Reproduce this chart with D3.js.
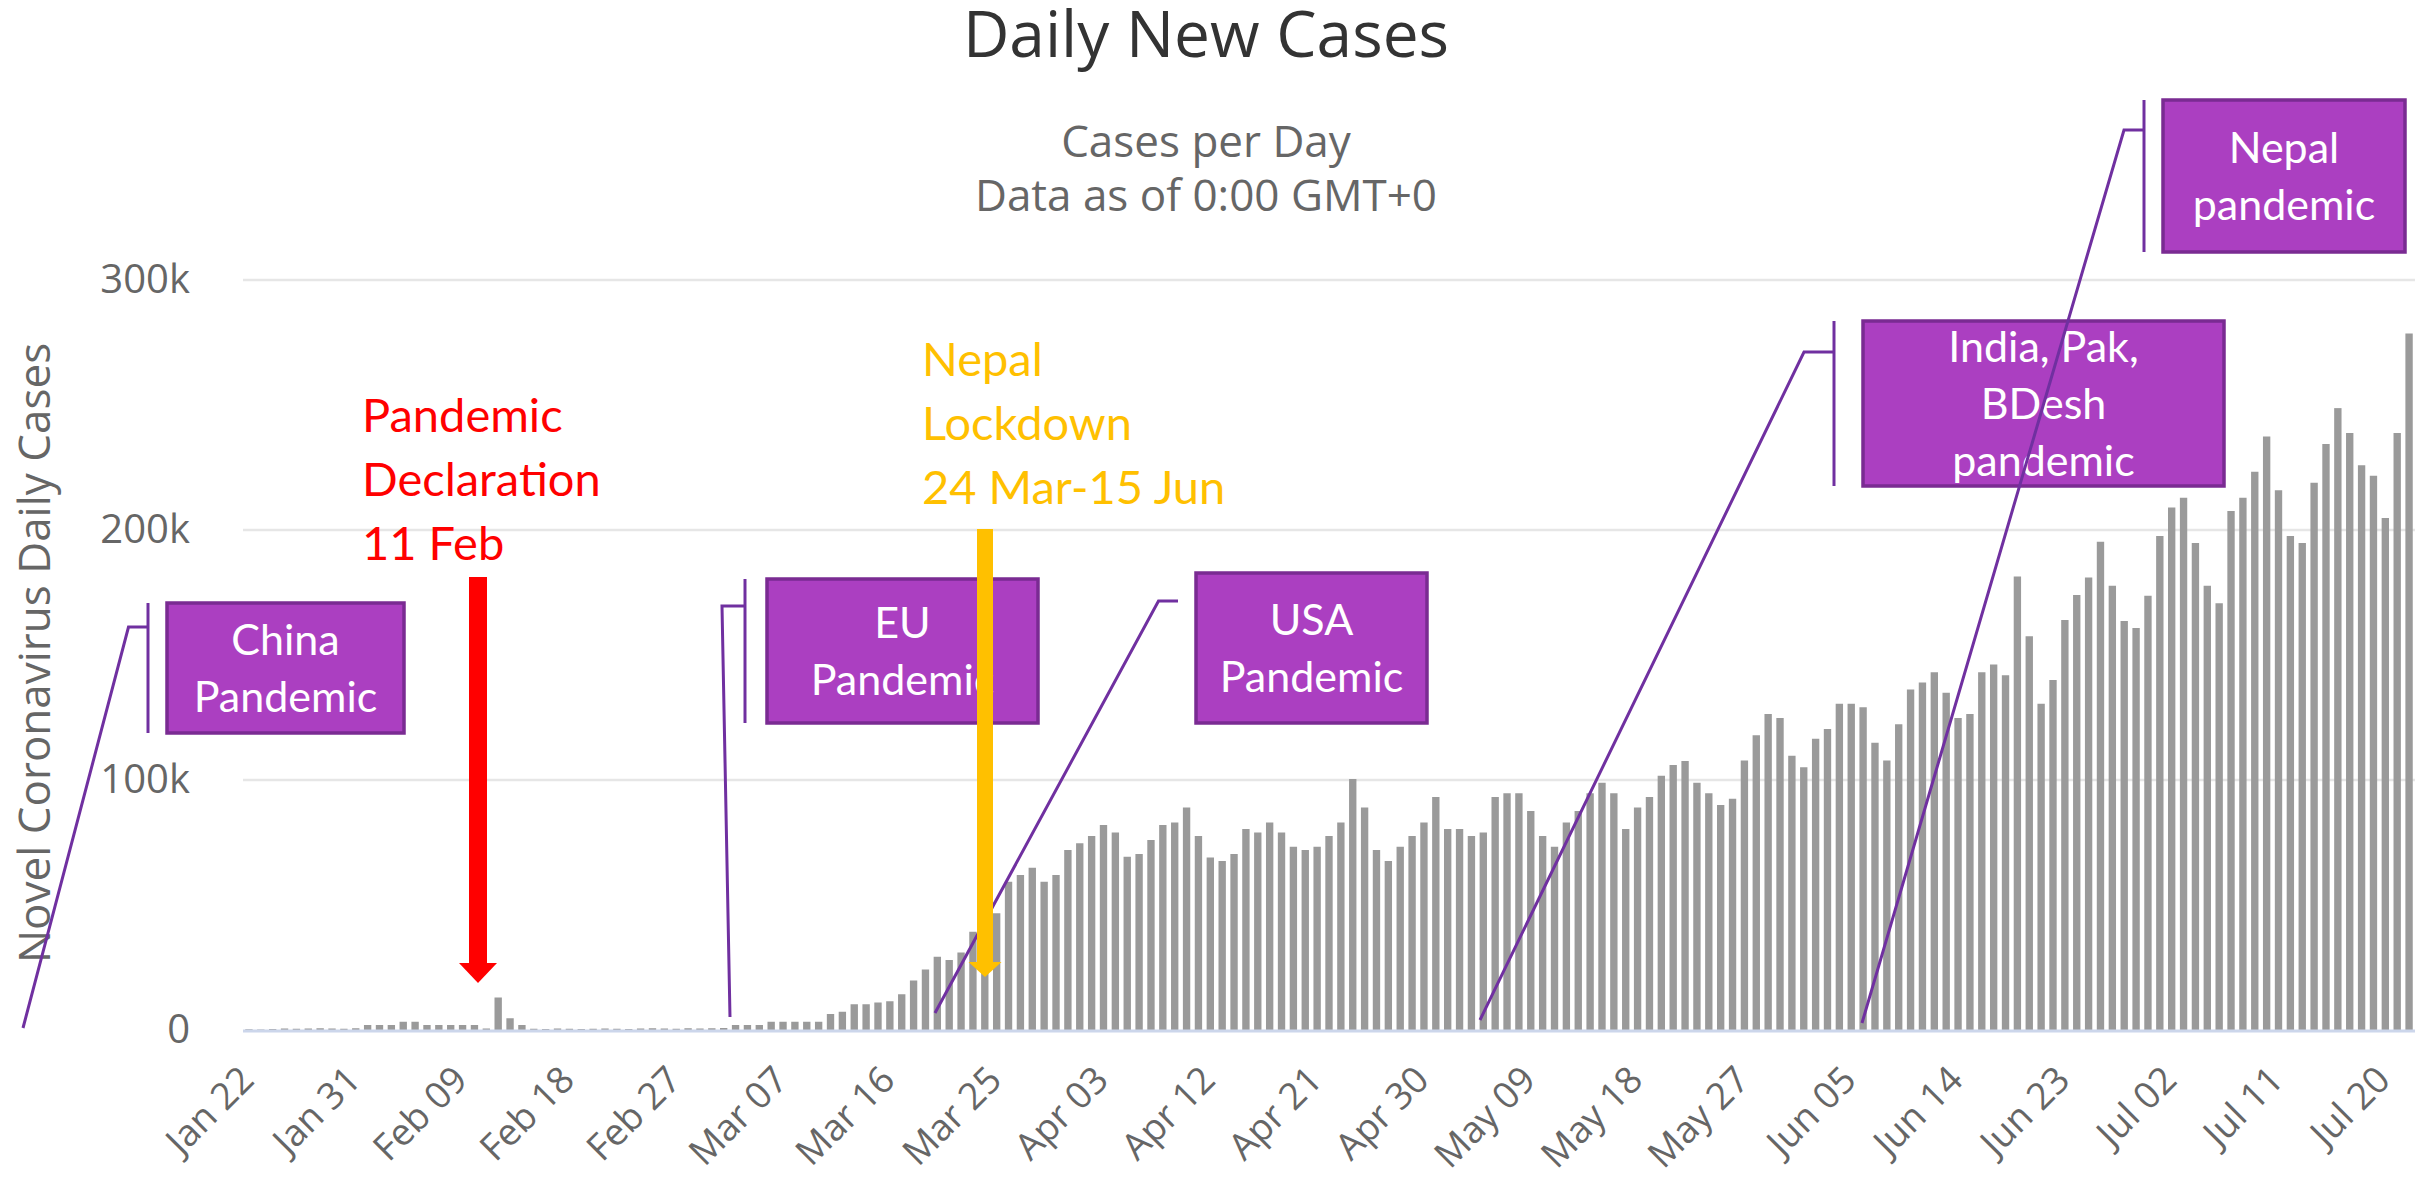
<!DOCTYPE html>
<html>
<head>
<meta charset="utf-8">
<script src="https://cdn.jsdelivr.net/npm/d3@7"></script>
<style>
  body { margin: 0; background: #fff; }
  svg text { font-family: "Open Sans", sans-serif; }
  .notes text { font-family: Lato, sans-serif; }
</style>
</head>
<body>
<div id="container"></div>
<script>
// Daily new cases, one bar per day from Jan 22 to Jul 22
var firstDay = "2020-01-22", lastDay = "2020-07-22";
var dailyCases = [
  300, 200, 400, 600, 500, 600, 700, 600, 500, 700,
  2000, 2000, 2000, 3300, 3300, 2000, 2000, 2000, 2000, 2000,
  600, 13000, 4700, 2000,
  500, 400, 600, 500, 400, 500, 600, 500, 400, 600, 700, 600, 500, 700, 600, 700, 800,
  2000, 2000, 2000, 3300, 3300, 3300, 3300, 3300, 6400, 7300, 10300, 10300, 11000, 11500, 14300, 19800, 24200,
  29300, 28000, 31000, 39300, 41000, 46700, 59300, 62000, 64900, 59300, 62000, 72000, 74700, 77600, 82000, 79000,
  69300, 70400, 76000, 82000, 83000, 89000, 77600, 69000, 67600, 70400, 80400, 79000, 83000, 79000, 73300, 72000, 73300,
  77600, 83000, 100400, 89000, 72000, 67600, 73300, 77600, 83000, 93200, 80400, 80400, 77600, 79000, 93200, 94700, 94700,
  87600, 77600, 73300, 83000, 87600, 94700, 98900, 94700, 80400, 89000, 93200, 101700, 106000, 107600, 98900, 94700, 90000, 92500,
  107800, 117900, 126400, 124800, 109700, 105100, 116500, 120400, 130500, 130500, 129100, 114900, 107800, 122300, 136200, 139000,
  143100, 134900, 124800, 126400, 143100, 146200, 141900, 181400, 157500, 130500,
  140000, 164000, 174000, 181000, 195300, 177700, 163600, 160800, 173700, 197600, 209000, 212900, 194800, 177700, 170700, 207600,
  212900, 223300, 237400, 215900, 197600, 194800, 218900, 234400, 248750, 238800, 225900, 221700, 204800, 238800, 278600
];
var yTicks = [0, 100000, 200000, 300000];
var labelEvery = 9;

var titleText = "Daily New Cases";
var subtitleLines = ["Cases per Day", "Data as of 0:00 GMT+0"];
var yTitle = "Novel Coronavirus Daily Cases";

// callout boxes put on top of the chart
var boxLabels = [
  ["China", "Pandemic"],
  ["EU", "Pandemic"],
  ["USA", "Pandemic"],
  ["India, Pak,", "BDesh", "pandemic"],
  ["Nepal", "pandemic"]
];
var eventLabels = [
  ["Pandemic", "Declaration", "11 Feb"],
  ["Nepal", "Lockdown", "24 Mar-15 Jun"]
];

var W = 2423, H = 1180;
var plot = {left: 243, right: 2415, top: 280, bottom: 1030};

var parseDay = d3.timeParse("%Y-%m-%d");
var fmtDay = d3.timeFormat("%b %d");
var days = d3.timeDay.range(parseDay(firstDay), d3.timeDay.offset(parseDay(lastDay), 1)).map(fmtDay);
if (days.length !== dailyCases.length) console.warn("length mismatch", days.length, dailyCases.length);

var data = days.map(function(d, i) { return {day: d, value: dailyCases[i]}; });

var svg = d3.select("#container").append("svg")
    .attr("width", W)
    .attr("height", H);

var x = d3.scaleBand()
    .domain(days)
    .range([plot.left, plot.right])
    .paddingInner(0.38)
    .paddingOuter(0.19);

var y = d3.scaleLinear()
    .domain([0, 300000])
    .range([plot.bottom, plot.top]);

// titles
svg.append("text")
    .attr("x", 1206).attr("y", 57)
    .attr("text-anchor", "middle")
    .style("font-size", "64px")
    .style("fill", "#333")
    .text(titleText);

svg.selectAll(".subtitle")
    .data(subtitleLines)
  .enter().append("text")
    .attr("class", "subtitle")
    .attr("x", 1206)
    .attr("y", function(d, i) { return 157 + i * 54; })
    .attr("text-anchor", "middle")
    .style("font-size", "44px")
    .style("fill", "#666")
    .text(function(d) { return d; });

// grid lines
svg.selectAll(".grid")
    .data(yTicks.filter(function(d) { return d > 0; }))
  .enter().append("line")
    .attr("class", "grid")
    .attr("x1", plot.left).attr("x2", plot.right)
    .attr("y1", function(d) { return y(d); })
    .attr("y2", function(d) { return y(d); })
    .style("stroke", "#e6e6e6")
    .style("stroke-width", 2.5);

// bars
svg.append("g").selectAll("rect")
    .data(data)
  .enter().append("rect")
    .attr("x", function(d) { return x(d.day); })
    .attr("width", x.bandwidth())
    .attr("y", function(d) { return y(d.value); })
    .attr("height", function(d) { return y(0) - y(d.value); })
    .style("fill", "#9a9a9a");

// x axis
svg.append("line")
    .attr("x1", plot.left).attr("x2", plot.right)
    .attr("y1", plot.bottom + 1).attr("y2", plot.bottom + 1)
    .style("stroke", "#ccd6eb")
    .style("stroke-width", 3);

var xAxis = svg.append("g")
    .attr("transform", "translate(0," + plot.bottom + ")")
    .call(d3.axisBottom(x)
        .tickValues(days.filter(function(d, i) { return i % labelEvery === 0; }))
        .tickSize(0));
xAxis.select(".domain").remove();
xAxis.selectAll("text")
    .attr("x", 0).attr("y", 0).attr("dy", 0)
    .attr("transform", "translate(7,52) rotate(-45)")
    .style("text-anchor", "end")
    .style("font-size", "37px")
    .style("font-family", "Open Sans")
    .style("fill", "#666");

// y axis
var yAxis = svg.append("g")
    .attr("transform", "translate(" + plot.left + ",0)")
    .call(d3.axisLeft(y)
        .tickValues(yTicks)
        .tickSize(0)
        .tickFormat(function(d) { return d === 0 ? "0" : (d / 1000) + "k"; }));
yAxis.select(".domain").remove();
yAxis.selectAll("text")
    .attr("x", -53)
    .attr("dy", "0.32em")
    .style("font-size", "40px")
    .style("font-family", "Open Sans")
    .style("fill", "#666");

svg.append("text")
    .attr("transform", "translate(50,653) rotate(-90)")
    .attr("text-anchor", "middle")
    .style("font-size", "44px")
    .style("fill", "#666")
    .text(yTitle);

// annotations (slide overlay)
var boxLayout = [
  {x: 167, y: 603, w: 237, h: 130, bar: 148, elbowY: 627, elbowX: 128.5, end: [23, 1028]},
  {x: 767, y: 579, w: 271, h: 144, bar: 745, elbowY: 606, elbowX: 722, end: [730, 1017]},
  {x: 1196, y: 573, w: 231, h: 150, bar: null, stub: 1178, elbowY: 601, elbowX: 1158.5, end: [935, 1013]},
  {x: 1863, y: 321, w: 361, h: 165, bar: 1834, elbowY: 352, elbowX: 1804, end: [1480, 1020]},
  {x: 2163, y: 100, w: 242, h: 152, bar: 2144, elbowY: 130, elbowX: 2124, end: [1862, 1023]}
];
var purple = "#7030a0";
var notes = svg.append("g").attr("class", "notes");

var boxes = notes.selectAll(".box")
    .data(boxLayout)
  .enter().append("g")
    .attr("class", "box");
boxes.append("rect")
    .attr("x", function(d) { return d.x; })
    .attr("y", function(d) { return d.y; })
    .attr("width", function(d) { return d.w; })
    .attr("height", function(d) { return d.h; })
    .style("fill", "#ab3fc1")
    .style("stroke", "#7a2b92")
    .style("stroke-width", 3.5);
boxes.each(function(d, i) {
  var lines = boxLabels[i];
  var lh = 57;
  var first = d.y + d.h / 2 - (lines.length - 1) / 2 * lh + 15;
  d3.select(this).selectAll("text")
      .data(lines)
    .enter().append("text")
      .attr("x", d.x + d.w / 2)
      .attr("y", function(t, j) { return first + j * lh; })
      .attr("text-anchor", "middle")
      .style("font-size", "43px")
      .style("fill", "#fff")
      .text(function(t) { return t; });
});

// accent bars and leader lines
boxLayout.forEach(function(d) {
  if (d.bar !== null) {
    notes.append("line")
        .attr("x1", d.bar).attr("x2", d.bar)
        .attr("y1", d.y).attr("y2", d.y + d.h)
        .style("stroke", purple).style("stroke-width", 3);
  }
  var startX = d.bar !== null ? d.bar : d.stub;
  notes.append("polyline")
      .attr("points", [[startX, d.elbowY], [d.elbowX, d.elbowY], d.end].map(function(p) { return p.join(","); }).join(" "))
      .style("fill", "none")
      .style("stroke", purple)
      .style("stroke-width", 3);
});

// event texts and arrows
var eventLayout = [
  {x: 362, y: 432, color: "#ff0000", ax: 478, shaft: 18, top: 577, headTop: 963, tip: 983, headW: 38},
  {x: 922, y: 376, color: "#ffc000", ax: 985, shaft: 16, top: 529, headTop: 962, tip: 977, headW: 33}
];
eventLayout.forEach(function(d, i) {
  notes.selectAll(null)
      .data(eventLabels[i])
    .enter().append("text")
      .attr("x", d.x)
      .attr("y", function(t, j) { return d.y + j * 64; })
      .style("font-size", "47px")
      .style("fill", d.color)
      .text(function(t) { return t; });
  notes.append("rect")
      .attr("x", d.ax - d.shaft / 2)
      .attr("y", d.top)
      .attr("width", d.shaft)
      .attr("height", d.headTop - d.top)
      .style("fill", d.color);
  notes.append("polygon")
      .attr("points", [[d.ax - d.headW / 2, d.headTop], [d.ax + d.headW / 2, d.headTop], [d.ax, d.tip]].join(" "))
      .style("fill", d.color);
});
</script>
</body>
</html>
